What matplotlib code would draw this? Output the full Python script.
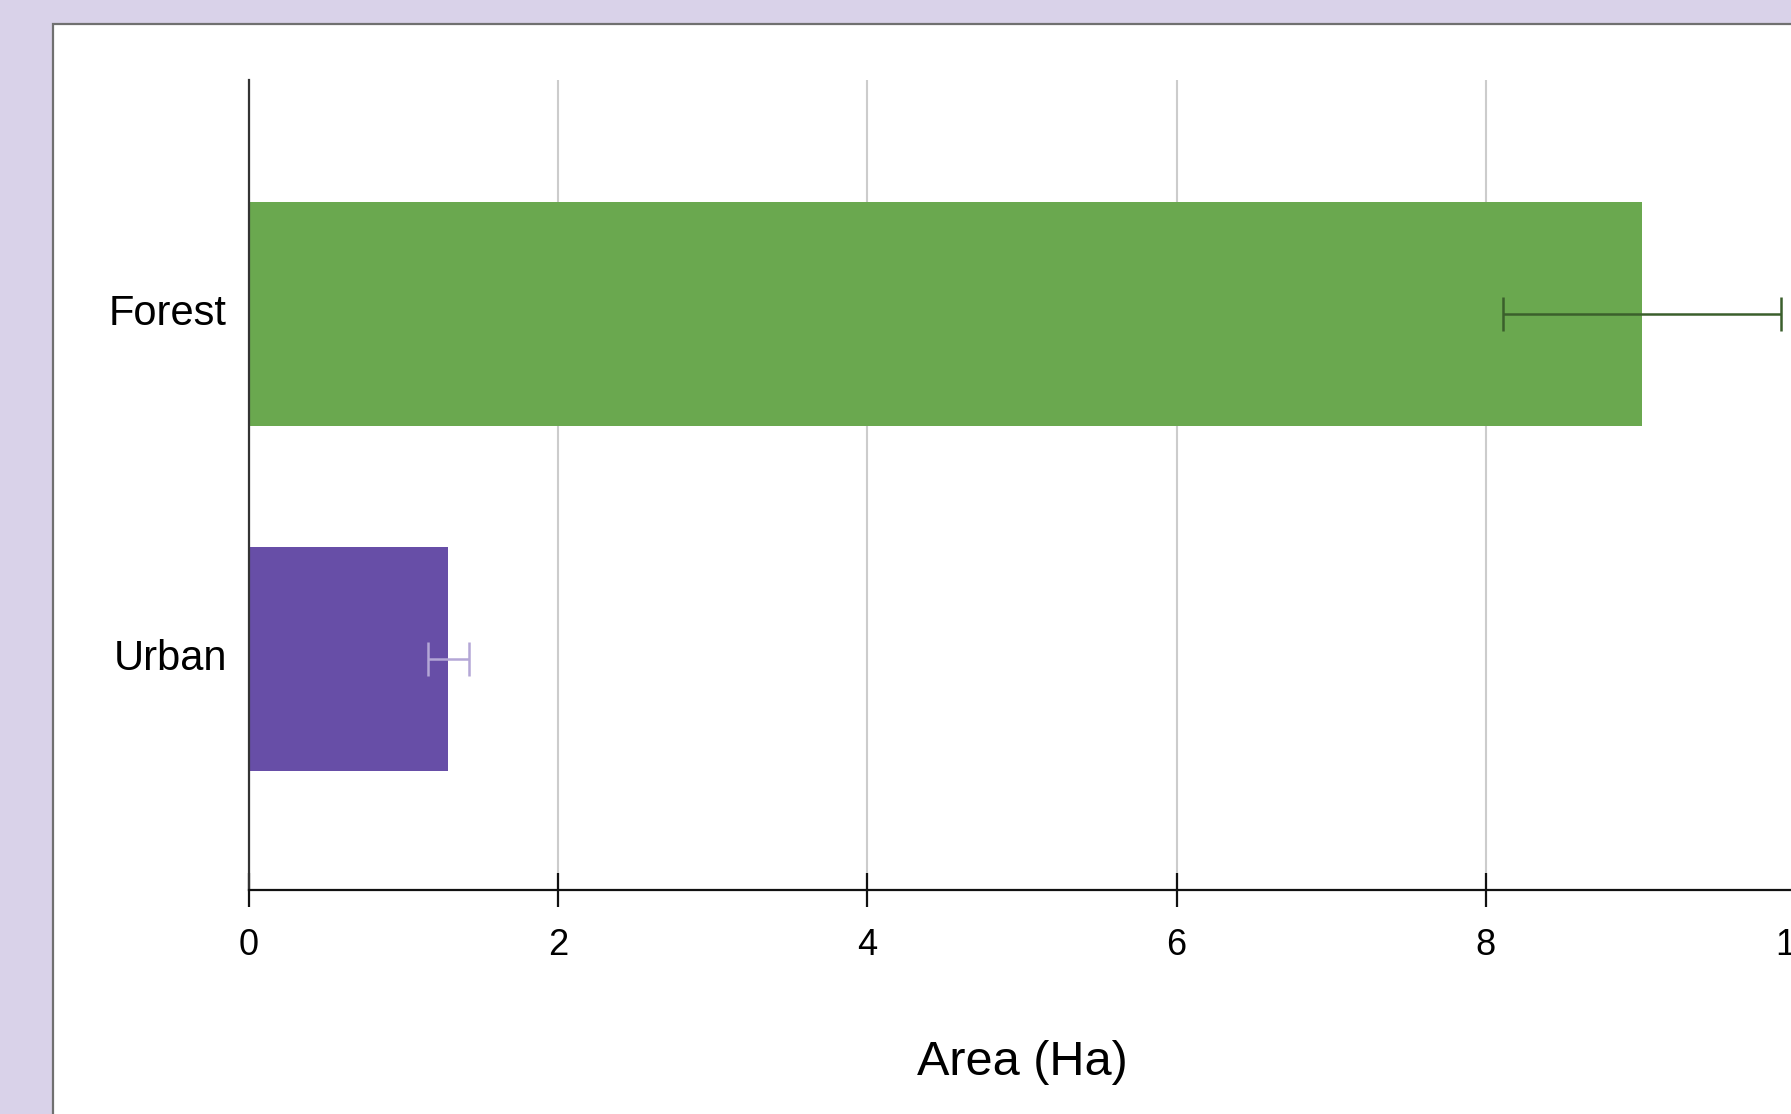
import matplotlib
matplotlib.use("Agg")
import matplotlib.pyplot as plt
from matplotlib.patches import Rectangle

categories = ["Urban", "Forest"]
values = [1.29, 9.01]
errors = [0.13, 0.90]
bar_colors = ["#674ea7", "#6aa84f"]
err_colors = ["#b4a7d6", "#3b5f2c"]
xticks = [0, 2, 4, 6, 8, 10]
xlabel = "Area (Ha)"

plt.rcParams['font.family'] = ['Liberation Sans', 'DejaVu Sans']

W, H = 1791, 1114
fig = plt.figure(figsize=(W / 100, H / 100), dpi=100)
fig.patch.set_facecolor("#d9d2e9")

# white panel (extends beyond right/bottom edge)
panel = Rectangle((52.5 / W, -0.1), 1.2, (H - 24) / H + 0.1,
                  transform=fig.transFigure, facecolor="white",
                  edgecolor="#707070", linewidth=1.6, zorder=-10)
fig.add_artist(panel)

left = 249 / W
right = 1795 / W
bottom = (H - 890) / H
top = (H - 80) / H
ax = fig.add_axes([left, bottom, right - left, top - bottom])
ax.set_facecolor("none")

ypos = list(range(len(categories)))
for i in ypos:
    ax.barh(i, values[i], height=0.65, color=bar_colors[i], zorder=2)
    ax.errorbar(values[i], i, xerr=errors[i], fmt="none", ecolor=err_colors[i],
                elinewidth=1.8, capsize=12.5, capthick=1.8, zorder=3)

ax.set_xlim(0, 10)
ax.set_ylim(-0.67, 1.68)
ax.set_yticks(ypos)
ax.set_yticklabels(categories, fontsize=30)
for lbl in ax.get_yticklabels():
    lbl.set_verticalalignment("center")
ax.set_xticks(xticks)
ax.set_xticklabels([str(t) for t in xticks], fontsize=26)

ax.grid(axis="x", color="#cccccc", linewidth=1.5, zorder=1)
ax.set_axisbelow(True)

for s in ["top", "right"]:
    ax.spines[s].set_visible(False)
ax.spines["left"].set_color("#333333")
ax.spines["left"].set_linewidth(1.6)
ax.spines["bottom"].set_color("#111111")
ax.spines["bottom"].set_linewidth(1.6)

ax.tick_params(axis="y", length=0, pad=16)
ax.tick_params(axis="x", direction="inout", length=25, width=1.6, pad=15, color="#111111")

ax.set_xlabel(xlabel, fontsize=35, labelpad=55)

fig.savefig("out.png", dpi=100, facecolor=fig.get_facecolor())
